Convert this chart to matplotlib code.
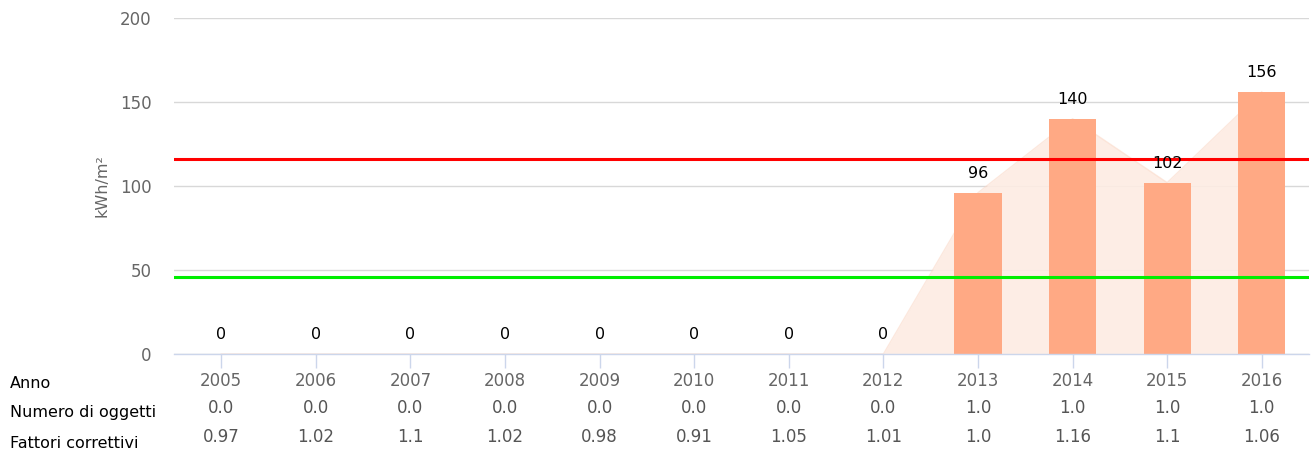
import numpy as np
import matplotlib.pyplot as plt

anni = ['2005', '2006', '2007', '2008', '2009', '2010', '2011', '2012', '2013', '2014', '2015', '2016']
consumo = [0, 0, 0, 0, 0, 0, 0, 0, 96, 140, 102, 156]
numero_oggetti = ['0.0'] * 8 + ['1.0'] * 4
fattori = ['0.97', '1.02', '1.1', '1.02', '0.98', '0.91', '1.05', '1.01', '1.0', '1.16', '1.1', '1.06']
limite_rosso = 116
limite_verde = 46

plt.rcParams['font.family'] = ['DejaVu Sans']

fig = plt.figure(figsize=(13.13, 4.58), dpi=100)
ax = fig.add_axes([0.1325, 0.227, 0.8645, 0.7337])

x = np.arange(len(anni))

# area behind the bars
ax.fill_between(x, consumo, 0, color='#fdece3', alpha=0.9, lw=0, zorder=1)
ax.plot(x, consumo, color='#fbd9c8', lw=1, alpha=0.6, zorder=1)

ax.bar(x, consumo, width=0.5, color='#ffa984', zorder=2)

for xi, v in zip(x, consumo):
    ax.text(xi, v + 7, str(v), ha='center', va='bottom', fontsize=11.5, color='black', zorder=4)

ax.axhline(limite_rosso, color='#ff0000', lw=2.2, zorder=3)
ax.axhline(limite_verde, color='#00ee00', lw=2.2, zorder=3)

ax.set_xlim(-0.5, len(anni) - 0.5)
ax.set_ylim(0, 200)
ax.set_yticks([0, 50, 100, 150, 200])
ax.yaxis.grid(True, color='#d8d8d8', lw=1)
ax.set_axisbelow(True)

for s in ['top', 'right', 'left']:
    ax.spines[s].set_visible(False)
ax.spines['bottom'].set_color('#ccd6eb')
ax.spines['bottom'].set_linewidth(1)

ax.set_xticks(x)
ax.set_xticklabels(anni)
ax.tick_params(axis='x', colors='#ccd6eb', length=10, width=1, labelcolor='#666666', labelsize=12, pad=3)
ax.tick_params(axis='y', length=0, labelcolor='#666666', labelsize=12, pad=16)
ax.set_ylabel('kWh/m²', color='#666666', fontsize=11.5, labelpad=8)

# table rows under the axis
for xi, n, f in zip(x, numero_oggetti, fattori):
    ax.text(xi, -0.161, n, transform=ax.get_xaxis_transform(), ha='center', va='center',
            fontsize=12, color='#555555')
    ax.text(xi, -0.247, f, transform=ax.get_xaxis_transform(), ha='center', va='center',
            fontsize=12, color='#555555')

fig.text(10 / 1313, 1 - 383 / 458, 'Anno', ha='left', va='center', fontsize=11.5, color='black')
fig.text(10 / 1313, 1 - 412 / 458, 'Numero di oggetti', ha='left', va='center', fontsize=11.5, color='black')
fig.text(10 / 1313, 1 - 444 / 458, 'Fattori correttivi', ha='left', va='center', fontsize=11.5, color='black')

fig.savefig('out.png', dpi=100)
